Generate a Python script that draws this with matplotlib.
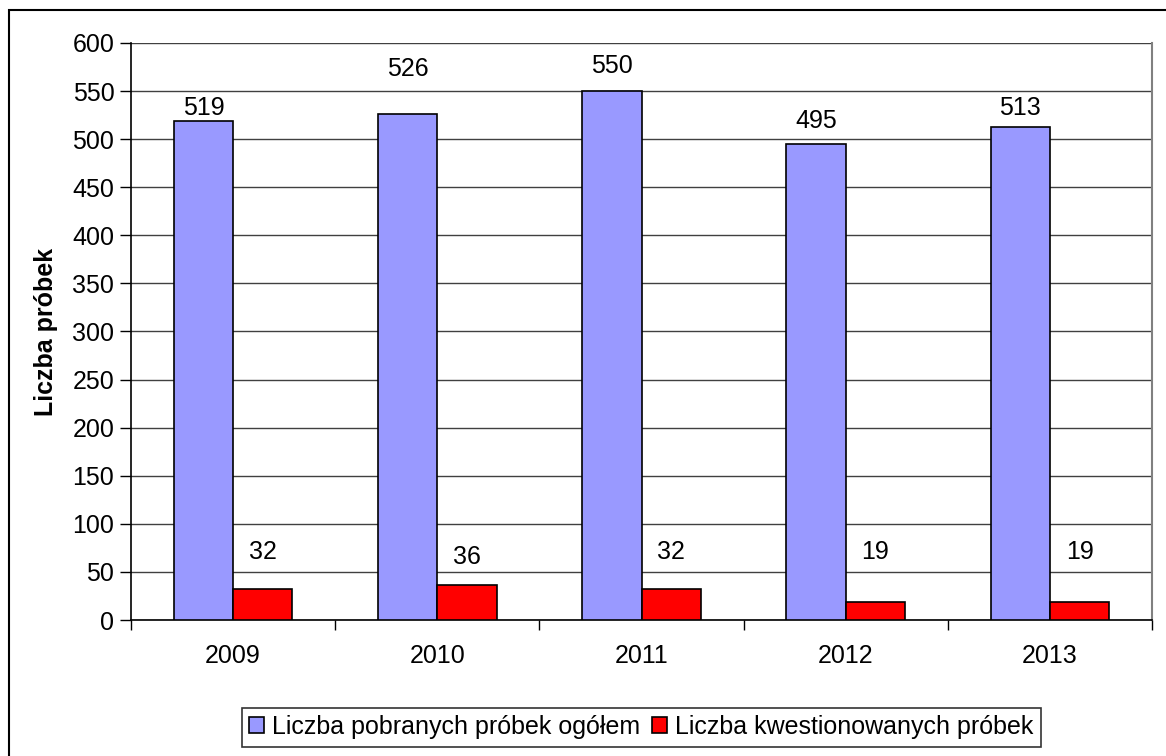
import matplotlib.pyplot as plt
import numpy as np
from matplotlib.patches import Rectangle

years = ["2009", "2010", "2011", "2012", "2013"]
pobrane = [519, 526, 550, 495, 513]
kwestionowane = [32, 36, 32, 19, 19]
# label heights as they sit in the original picture
pobrane_label_y = [532, 573, 576, 519, 532]
kwest_label_y = [71, 65, 71, 71, 71]

plt.rcParams["font.family"] = ["Liberation Sans", "DejaVu Sans"]
FS = 18

fig = plt.figure(figsize=(11.66, 7.56), dpi=100)
ax = fig.add_axes([131 / 1166, 1 - 620 / 756, (1152 - 131) / 1166, (620 - 43) / 756])

x = np.arange(len(years))
w = 0.29
ax.bar(x - w / 2, pobrane, w, color="#9999FF", edgecolor="black", linewidth=1.2,
       label="Liczba pobranych próbek ogółem", zorder=3)
ax.bar(x + w / 2, kwestionowane, w, color="#FF0000", edgecolor="black", linewidth=1.2,
       label="Liczba kwestionowanych próbek", zorder=3)

for i in range(len(years)):
    ax.text(x[i] - w / 2, pobrane_label_y[i], str(pobrane[i]), ha="center", va="center", fontsize=FS)
    ax.text(x[i] + w / 2, kwest_label_y[i], str(kwestionowane[i]), ha="center", va="center", fontsize=FS)

ax.set_xlim(-0.5, len(years) - 0.5)
ax.set_ylim(0, 600)
ax.set_yticks(range(0, 601, 50))
ax.yaxis.grid(True, color="#404040", linewidth=1.0, zorder=0)
ax.set_xticks(x)
ax.set_xticklabels(years, fontsize=FS)
ax.set_xticks(np.arange(-0.5, len(years), 1), minor=True)
ax.tick_params(axis="x", which="major", length=0, pad=17)
ax.tick_params(axis="x", which="minor", length=7, width=1, direction="out")
ax.tick_params(axis="y", labelsize=FS, length=8, width=1, direction="out", pad=4)

for side in ["left", "bottom"]:
    ax.spines[side].set_color("black")
    ax.spines[side].set_linewidth(1.2)
ax.spines["top"].set_visible(False)
ax.spines["right"].set_color("#808080")
ax.spines["right"].set_linewidth(1.5)

ax.set_ylabel("Liczba próbek", fontsize=FS, fontweight="bold")
ax.yaxis.set_label_coords((58 - 131) / 1021, 0.5)

leg = fig.legend(loc="center", bbox_to_anchor=(641 / 1166, 1 - 727 / 756), ncol=2,
                 fontsize=FS, frameon=True, fancybox=False, edgecolor="black",
                 handlelength=0.6, handleheight=0.6, handletextpad=0.3,
                 columnspacing=0.5, borderpad=0.3)
leg.get_frame().set_linewidth(1.2)

fig.patches.append(Rectangle((9 / 1166, -0.05), 1.1, 1 - 10 / 756 + 0.05,
                             transform=fig.transFigure, fill=False,
                             edgecolor="black", linewidth=1.5))

fig.savefig("out.png", dpi=100)
